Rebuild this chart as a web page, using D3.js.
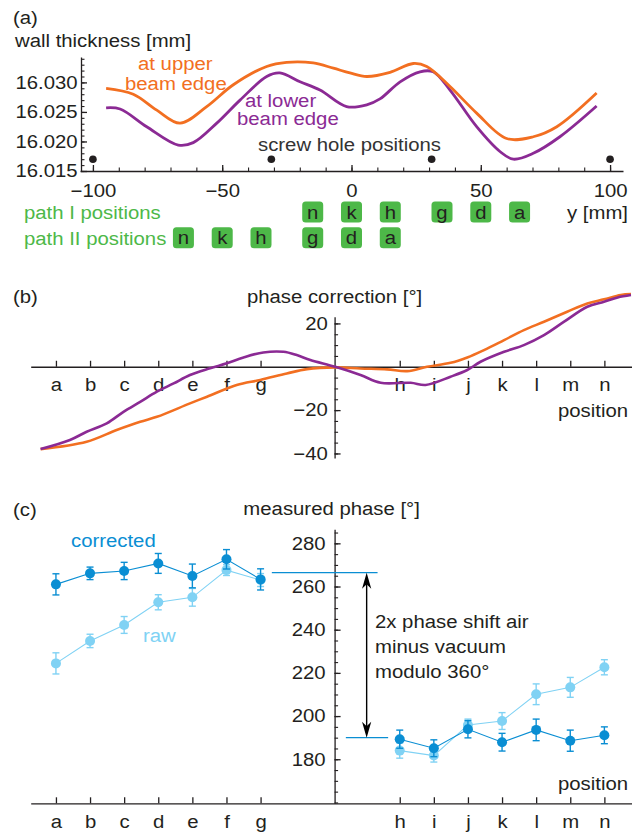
<!DOCTYPE html>
<html>
<head>
<meta charset="utf-8">
<script src="https://cdn.jsdelivr.net/npm/d3@7"></script>
<style>
body { margin: 0; background: #fff; }
svg text { font-family: "Liberation Sans", Arial, Helvetica, sans-serif; font-size: 18px; fill: #231f20; }
</style>
</head>
<body>
<div id="chart"></div>
<script>
// ---- (a) wall thickness along y [mm] ----
var yUpper = [-94.9, -84.4, -75.3, -66.3, -56, -45.7, -32.8, -25.1, -14.8, -7.0, -0.6, 5.9, 14.9, 23.9, 29.1, 38.1, 48.4, 60, 70.3, 79.4, 94.8];
var tUpper = [16.0290, 16.0280, 16.0253, 16.0231, 16.0259, 16.0296, 16.0327, 16.0334, 16.0333, 16.0324, 16.0316, 16.0310, 16.0317, 16.0332, 16.0327, 16.0293, 16.0248, 16.0205, 16.0208, 16.0225, 16.0282];
var yLower = [-94.9, -89.5, -79.2, -67, -61.2, -52.1, -43.1, -32.8, -27.7, -19.9, -12.2, -1.9, 5.9, 11, 18.8, 26.5, 31.6, 38.1, 48.4, 57.4, 62.6, 70.3, 80.6, 94.8];
var tLower = [16.0257, 16.0255, 16.0225, 16.0194, 16.0198, 16.0231, 16.0270, 16.0310, 16.0316, 16.0301, 16.0287, 16.0259, 16.0262, 16.0272, 16.0301, 16.0318, 16.0318, 16.0287, 16.0225, 16.0183, 16.0170, 16.0180, 16.0208, 16.0260];
var screwHoles = [-100, -31, 31, 100];
var path1Pos = [-15, 0, 15, 35, 50, 65];
var path1Lab = ["n", "k", "h", "g", "d", "a"];
var path2Pos = [-65, -50, -35, -15, 0, 15];
var path2Lab = ["n", "k", "h", "g", "d", "a"];

// ---- (b) phase correction vs position ----
var posLetters = ["a", "b", "c", "d", "e", "f", "g", "h", "i", "j", "k", "l", "m", "n"];
var posX = [0, 1, 2, 3, 4, 5, 6, 10.08, 11.08, 12.08, 13.08, 14.08, 15.08, 16.08];
var corrUpperX = [-0.45, 0.9, 1.78, 2.47, 2.96, 3.93, 4.43, 5.3, 5.99, 6.77, 7.36, 8.19, 8.93, 9.71, 10.3, 10.88, 11.57, 12.06, 12.55, 13.14, 13.72, 14.31, 14.99, 15.58, 16.07, 16.56, 16.86];
var corrUpper = [-38, -34.6, -29.2, -25.4, -23.1, -16.9, -13.8, -8.4, -6.1, -3.1, -1.1, -0.3, -0.8, -1.2, -2, 0, 1.8, 4.3, 7.7, 12.3, 16.9, 20.8, 25.4, 29.2, 31.1, 33.1, 33.5];
var corrLowerX = [-0.45, 0.41, 0.9, 1.49, 1.98, 2.47, 2.96, 3.45, 3.93, 4.52, 5.01, 5.5, 6.08, 6.67, 7.06, 7.46, 8.19, 8.93, 9.52, 10.4, 10.84, 11.57, 12.06, 12.45, 13.14, 13.72, 14.31, 14.9, 15.58, 16.07, 16.47, 16.86];
var corrLower = [-38, -33.8, -30, -26.1, -20.8, -16.2, -11.5, -7.7, -3.8, -0.7, 1.6, 4.3, 6.6, 6.9, 5.4, 3.1, 0, -3.8, -7.4, -7.4, -8.4, -4.6, -1.5, 2.3, 6.9, 10, 14.6, 20.8, 27.7, 30, 32, 33.1];

// ---- (c) measured phase ----
var corrPhase = [261.0, 266.1, 267.2, 270.7, 264.9, 272.6, 263.3, 189.3, 185.1, 193.9, 187.9, 193.6, 188.6, 191.1];
var corrErr = [4.9, 2.9, 4.0, 4.6, 5.5, 4.5, 4.9, 4.2, 3.9, 4.0, 4.1, 5.0, 4.9, 3.9];
var rawPhase = [224.4, 234.8, 242.2, 252.7, 255.0, 267.6, 263.0, 184.0, 181.7, 195.9, 197.7, 210.1, 213.3, 222.6];
var rawErr = [4.9, 3.1, 3.9, 3.5, 4.1, 2.5, 3.0, 3.5, 3.0, 2.7, 3.9, 4.8, 4.6, 3.5];
var shiftTop = 266.4, shiftBottom = 190.0;

var SX = 1.13;           // text is set a bit wide in the original
var ink = "#231f20";
var orange = "#f26f21", purple = "#8b2a94", green = "#4db848";
var dark = "#0a8ed3", light = "#80d2f4";

var svg = d3.select("#chart").append("svg")
    .attr("width", 632)
    .attr("height", 832);

function label(x, y, s, anchor, color) {
    return svg.append("text")
        .attr("transform", `translate(${x},${y}) scale(${SX},1)`)
        .attr("text-anchor", anchor || "start")
        .style("fill", color || ink)
        .text(s);
}

// two-line label kept in a single text element
function label2(x, y, lines, dx2, dy2, color) {
    var t = svg.append("text")
        .attr("transform", `translate(${x},${y}) scale(${SX},1)`)
        .style("fill", color);
    t.append("tspan").attr("x", 0).attr("y", 0).text(lines[0]);
    t.append("tspan").attr("x", dx2 / SX).attr("y", dy2).text(lines[1]);
    return t;
}

function styleAxis(g) {
    g.attr("font-size", null).attr("font-family", null);
    g.selectAll("path, line").attr("stroke", ink).attr("stroke-width", 1.3);
    g.selectAll("text").attr("transform", `scale(${SX},1)`);
    return g;
}

function minor(g) {
    g.select(".domain").remove();
    g.selectAll("line").attr("stroke", ink).attr("stroke-width", 1.1);
}

// ================= (a) =================
var xA = d3.scaleLinear().domain([-105, 105]).range([80, 623]);
var yA = d3.scaleLinear().domain([16.015, 16.0343]).range([171, 57]);

label(13, 24, "(a)");
label(15, 46.5, "wall thickness [mm]");

svg.append("g").attr("transform", "translate(0,171)")
    .call(d3.axisBottom(xA).tickValues(d3.range(-100, 101, 10)).tickSizeInner(-3.5).tickSizeOuter(0).tickFormat(""))
    .call(minor);
styleAxis(svg.append("g").attr("transform", "translate(0,171)")
    .call(d3.axisBottom(xA).tickValues([-100, -50, 0, 50, 100]).tickSizeInner(-6).tickSizeOuter(0).tickPadding(13)));

svg.append("g").attr("transform", "translate(81,0)")
    .call(d3.axisLeft(yA).tickValues(d3.range(16.015, 16.0341, 0.001)).tickSizeInner(-3.5).tickSizeOuter(0).tickFormat(""))
    .call(minor);
styleAxis(svg.append("g").attr("transform", "translate(81,0)")
    .call(d3.axisLeft(yA).tickValues([16.015, 16.02, 16.025, 16.03]).tickFormat(d3.format(".3f"))
        .tickSizeInner(-6).tickSizeOuter(0).tickPadding(3)));

var lineA = d3.line().x(d => xA(d[0])).y(d => yA(d[1])).curve(d3.curveCatmullRom);

svg.append("path").datum(d3.zip(yLower, tLower))
    .attr("d", lineA).attr("fill", "none").attr("stroke", purple).attr("stroke-width", 2.8);
svg.append("path").datum(d3.zip(yUpper, tUpper))
    .attr("d", lineA).attr("fill", "none").attr("stroke", orange).attr("stroke-width", 2.8);

svg.selectAll(".hole").data(screwHoles).enter().append("circle")
    .attr("cx", d => xA(d))
    .attr("cy", yA(16.017))
    .attr("r", 3.8)
    .attr("fill", ink);

label2(138, 70, ["at upper", "beam edge"], -13, 20.5, orange);
label2(245, 106.5, ["at lower", "beam edge"], -8, 18.5, purple);
label(258, 151, "screw hole positions", "start", "#333");

label(24, 219, "path I positions", "start", green);
label(24, 245, "path II positions", "start", green);
label(567, 219, "y [mm]");

function boxes(pos, labs, cy) {
    var g = svg.append("g");
    var b = g.selectAll("g").data(d3.zip(pos, labs)).enter().append("g")
        .attr("transform", d => `translate(${xA(d[0])},${cy})`);
    b.append("rect")
        .attr("x", -10.5).attr("y", -10.5)
        .attr("width", 21).attr("height", 21)
        .attr("rx", 3.5)
        .attr("fill", green);
    b.append("text")
        .attr("y", 6.5)
        .attr("text-anchor", "middle")
        .attr("transform", `scale(${SX},1)`)
        .text(d => d[1]);
}
boxes(path1Pos, path1Lab, 212);
boxes(path2Pos, path2Lab, 237.8);

// ================= (b) =================
var xP = d3.scaleLinear().domain([-0.74, 16.89]).range([30.7, 632]);
var yB = d3.scaleLinear().domain([-42.1, 23.1]).range([458, 316.7]);
var yAxisAt = 8.17;

label(13, 303, "(b)");
label(xP(yAxisAt), 303.3, "phase correction [°]", "middle");

styleAxis(svg.append("g").attr("transform", `translate(0,${yB(0)})`)
    .call(d3.axisBottom(xP).tickValues(posX).tickFormat((d, i) => posLetters[i])
        .tickSizeInner(-6).tickSizeOuter(0).tickPadding(11)));

svg.append("g").attr("transform", `translate(${xP(yAxisAt)},0)`)
    .call(d3.axisLeft(yB).tickValues(d3.range(-40, 21, 5)).tickSizeInner(-3.5).tickSizeOuter(0).tickFormat(""))
    .call(minor);
styleAxis(svg.append("g").attr("transform", `translate(${xP(yAxisAt)},0)`)
    .call(d3.axisLeft(yB).tickValues([-40, -20, 20]).tickSizeInner(-6).tickSizeOuter(0).tickPadding(6)));

label(628, 416.5, "position", "end");

var lineB = d3.line().x(d => xP(d[0])).y(d => yB(d[1])).curve(d3.curveCatmullRom);
svg.append("path").datum(d3.zip(corrUpperX, corrUpper))
    .attr("d", lineB).attr("fill", "none").attr("stroke", orange).attr("stroke-width", 2.6);
svg.append("path").datum(d3.zip(corrLowerX, corrLower))
    .attr("d", lineB).attr("fill", "none").attr("stroke", purple).attr("stroke-width", 2.6);

// ================= (c) =================
var yC = d3.scaleLinear().domain([159.6, 286.5]).range([803.3, 529.3]);

label(13, 516, "(c)");
label(xP(yAxisAt) - 3, 515, "measured phase [°]", "middle");

styleAxis(svg.append("g").attr("transform", `translate(0,${yC(159.6)})`)
    .call(d3.axisBottom(xP).tickValues(posX).tickFormat((d, i) => posLetters[i])
        .tickSizeInner(-6).tickSizeOuter(0).tickPadding(11.5)));

svg.append("g").attr("transform", `translate(${xP(yAxisAt)},0)`)
    .call(d3.axisLeft(yC).tickValues(d3.range(160, 286, 5)).tickSizeInner(-3.5).tickSizeOuter(0).tickFormat(""))
    .call(minor);
styleAxis(svg.append("g").attr("transform", `translate(${xP(yAxisAt)},0)`)
    .call(d3.axisLeft(yC).tickValues([180, 200, 220, 240, 260, 280]).tickSizeInner(-6).tickSizeOuter(0).tickPadding(8)));

label(628, 790, "position", "end");

// annotation: shift between the two halves
var ann = svg.append("g");
ann.append("line")
    .attr("x1", xP(6.33)).attr("x2", xP(9.43))
    .attr("y1", yC(shiftTop)).attr("y2", yC(shiftTop))
    .attr("stroke", dark).attr("stroke-width", 1.2);
ann.append("line")
    .attr("x1", xP(8.5)).attr("x2", xP(9.74))
    .attr("y1", yC(shiftBottom)).attr("y2", yC(shiftBottom))
    .attr("stroke", dark).attr("stroke-width", 1.2);
var ax = xP(9.11);
ann.append("line")
    .attr("x1", ax).attr("x2", ax)
    .attr("y1", yC(shiftTop) + 10).attr("y2", yC(shiftBottom) - 10)
    .attr("stroke", "#000").attr("stroke-width", 1.4);
var head = "M0,0 L-4.6,16 L0,11.5 L4.6,16 Z";
ann.append("path").attr("d", head)
    .attr("transform", `translate(${ax},${yC(shiftTop)})`).attr("fill", "#000");
ann.append("path").attr("d", head)
    .attr("transform", `translate(${ax},${yC(shiftBottom)}) rotate(180)`).attr("fill", "#000");

label(375, 628.3, "2x phase shift air");
label(375, 653.3, "minus vacuum");
label(375, 677.7, "modulo 360°");

function series(vals, errs, color) {
    var g = svg.append("g");
    var pts = posX.map((x, i) => ({ x: x, v: vals[i], e: errs[i] }));
    var line = d3.line().x(d => xP(d.x)).y(d => yC(d.v));
    [pts.slice(0, 7), pts.slice(7)].forEach(function(part) {
        g.append("path").datum(part)
            .attr("d", line).attr("fill", "none")
            .attr("stroke", color).attr("stroke-width", 1.1);
    });
    var eb = g.selectAll(".eb").data(pts).enter().append("g");
    eb.append("line")
        .attr("x1", d => xP(d.x)).attr("x2", d => xP(d.x))
        .attr("y1", d => yC(d.v - d.e)).attr("y2", d => yC(d.v + d.e))
        .attr("stroke", color).attr("stroke-width", 1.4);
    [-1, 1].forEach(function(s) {
        eb.append("line")
            .attr("x1", d => xP(d.x) - 3.5).attr("x2", d => xP(d.x) + 3.5)
            .attr("y1", d => yC(d.v + s * d.e)).attr("y2", d => yC(d.v + s * d.e))
            .attr("stroke", color).attr("stroke-width", 1.4);
    });
    eb.append("circle")
        .attr("cx", d => xP(d.x)).attr("cy", d => yC(d.v))
        .attr("r", 5)
        .attr("fill", color);
}
series(rawPhase, rawErr, light);
series(corrPhase, corrErr, dark);

label(71, 547, "corrected", "start", dark);
label(143, 642, "raw", "start", light);
</script>
</body>
</html>
